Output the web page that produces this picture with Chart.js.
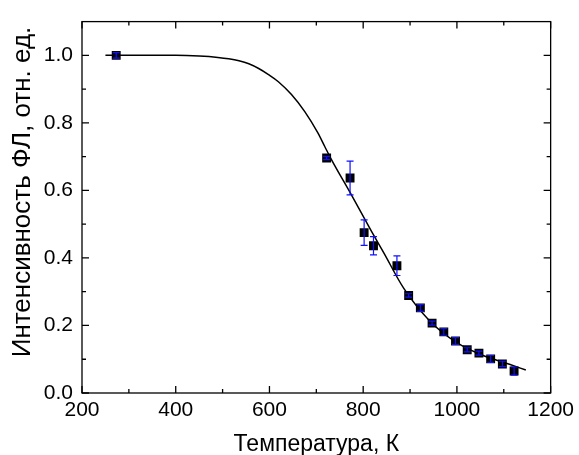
<!DOCTYPE html>
<html>
<head>
<meta charset="utf-8">
<script src="https://cdn.jsdelivr.net/npm/chart.js@4.4.1/dist/chart.umd.min.js"></script>
<style>
  html, body { margin: 0; padding: 0; background: #fff; }
</style>
</head>
<body>
<canvas id="chart" width="579" height="455"></canvas>
<script>
// ------------------------------------------------------------
// Data: PL intensity vs temperature (points + fit)
// ------------------------------------------------------------
const tempK = [273, 722, 772, 802, 822, 872, 897, 922, 947, 972, 997, 1022, 1047, 1072, 1097, 1122];
const intensity = [1.0, 0.696, 0.637, 0.475, 0.436, 0.377, 0.289, 0.252, 0.207, 0.181, 0.154, 0.128, 0.118, 0.101, 0.086, 0.065];
const errI = [0.008, 0.005, 0.05, 0.038, 0.027, 0.029, 0.005, 0.01, 0.006, 0.01, 0.01, 0.006, 0.006, 0.01, 0.008, 0.012];

// fit curve
const fitT = [250, 300, 350, 400, 450, 490, 513, 535, 556, 577, 598, 619, 647, 675, 703, 718, 732, 774, 816, 844, 887, 943, 999, 1056, 1112, 1147];
const fitI = [1.0, 1.0, 1.0, 1.0, 0.998, 0.994, 0.990, 0.984, 0.975, 0.961, 0.943, 0.922, 0.884, 0.834, 0.771, 0.730, 0.692, 0.589, 0.483, 0.415, 0.309, 0.212, 0.150, 0.111, 0.085, 0.068];

const xTicks = [200, 400, 600, 800, 1000, 1200];
const xMinor = [300, 500, 700, 900, 1100];
const yTicks = [0.0, 0.2, 0.4, 0.6, 0.8, 1.0];
const yMinor = [0.1, 0.3, 0.5, 0.7, 0.9];

const xTitle = 'Температура, К';
const yTitle = 'Интенсивность ФЛ, отн. ед.';

const FONT = 'Liberation Sans, Arial, sans-serif';

// inward ticks on all four sides + the frame
const frameTicks = {
  id: 'frameTicks',
  afterDraw(chart) {
    const { ctx, chartArea: a, scales: { x, y } } = chart;
    ctx.save();
    ctx.strokeStyle = '#000';
    ctx.lineWidth = 1.3;
    ctx.strokeRect(a.left, a.top, a.right - a.left, a.bottom - a.top);
    const tickX = (v, len) => {
      const px = x.getPixelForValue(v);
      ctx.moveTo(px, a.bottom); ctx.lineTo(px, a.bottom - len);
      ctx.moveTo(px, a.top); ctx.lineTo(px, a.top + len);
    };
    const tickY = (v, len) => {
      const py = y.getPixelForValue(v);
      ctx.moveTo(a.left, py); ctx.lineTo(a.left + len, py);
      ctx.moveTo(a.right, py); ctx.lineTo(a.right - len, py);
    };
    ctx.beginPath();
    xTicks.forEach(v => tickX(v, 7));
    xMinor.forEach(v => tickX(v, 4));
    yTicks.forEach(v => tickY(v, 7));
    yMinor.forEach(v => tickY(v, 4));
    ctx.stroke();

    // y axis title (sits a bit above the axis centre in the original)
    ctx.translate(23, 192);
    ctx.rotate(-Math.PI / 2);
    ctx.fillStyle = '#000';
    ctx.font = `26px ${FONT}`;
    ctx.textAlign = 'center';
    ctx.textBaseline = 'middle';
    ctx.fillText(yTitle, 0, 0);
    ctx.restore();
  },
};

// blue vertical error bars on the measured points
const errorBars = {
  id: 'errorBars',
  afterDatasetsDraw(chart) {
    const { ctx, scales: { x, y } } = chart;
    ctx.save();
    ctx.strokeStyle = '#1010ff';
    ctx.lineWidth = 1.2;
    ctx.beginPath();
    tempK.forEach((t, i) => {
      const px = x.getPixelForValue(t);
      const top = y.getPixelForValue(intensity[i] + errI[i]);
      const bot = y.getPixelForValue(intensity[i] - errI[i]);
      ctx.moveTo(px, top); ctx.lineTo(px, bot);
      ctx.moveTo(px - 3.5, top); ctx.lineTo(px + 3.5, top);
      ctx.moveTo(px - 3.5, bot); ctx.lineTo(px + 3.5, bot);
    });
    ctx.stroke();
    ctx.restore();
  },
};

new Chart(document.getElementById('chart'), {
  type: 'scatter',
  data: {
    datasets: [
      {
        data: tempK.map((t, i) => ({ x: t, y: intensity[i] })),
        pointStyle: 'rect',
        pointRadius: 6.3,
        backgroundColor: '#000',
        borderColor: '#000',
        borderWidth: 0,
      },
      {
        data: fitT.map((t, i) => ({ x: t, y: fitI[i] })),
        showLine: true,
        pointRadius: 0,
        borderColor: '#000',
        borderWidth: 1.5,
        cubicInterpolationMode: 'monotone',
      },
    ],
  },
  options: {
    responsive: false,
    animation: false,
    layout: { padding: { left: 0, right: 24, top: 14, bottom: 0 } },
    plugins: { legend: { display: false }, tooltip: { enabled: false } },
    scales: {
      x: {
        type: 'linear', min: 200, max: 1200,
        afterBuildTicks: s => { s.ticks = xTicks.map(v => ({ value: v })); },
        afterFit: s => { s.height = 62; },
        grid: { display: false, drawTicks: false },
        border: { display: false },
        ticks: { color: '#000', font: { family: FONT, size: 21 }, padding: 5, maxRotation: 0, autoSkip: false, callback: v => String(v) },
        title: { display: true, text: xTitle, color: '#000', font: { family: FONT, size: 23, lineHeight: 0.913 }, padding: 0 },
      },
      y: {
        type: 'linear', min: 0, max: 1.1,
        afterBuildTicks: s => { s.ticks = yTicks.map(v => ({ value: v })); },
        afterFit: s => { s.width = 82; },
        grid: { display: false, drawTicks: false },
        border: { display: false },
        ticks: { color: '#000', font: { family: FONT, size: 21 }, padding: 9, callback: v => v.toFixed(1) },
        title: { display: false },
      },
    },
  },
  plugins: [frameTicks, errorBars],
});
</script>
</body>
</html>
